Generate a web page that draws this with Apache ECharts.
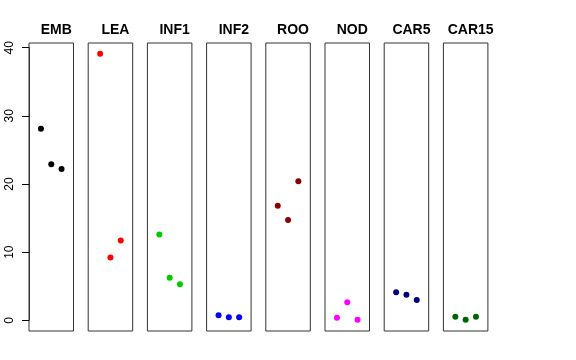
<!DOCTYPE html>
<html>
<head>
<meta charset="utf-8">
<script src="https://cdn.jsdelivr.net/npm/echarts@6/dist/echarts.min.js"></script>
<style>
html,body{margin:0;padding:0;background:#fff;}
#c{width:576px;height:360px;}
</style>
</head>
<body>
<div id="c"></div>
<script>
var categories = ['EMB','LEA','INF1','INF2','ROO','NOD','CAR5','CAR15'];
var xPositions = [1, 2, 3];
var EMB = [28.1, 22.9, 22.2];
var LEA = [39.1, 9.2, 11.7];
var INF1 = [12.6, 6.25, 5.3];
var INF2 = [0.73, 0.45, 0.45];
var ROO = [16.8, 14.7, 20.4];
var NOD = [0.38, 2.64, 0.09];
var CAR5 = [4.1, 3.76, 2.98];
var CAR15 = [0.53, 0.09, 0.53];
var yTickMin = 0, yTickMax = 40, yTickStep = 10;

var seriesValues = [EMB, LEA, INF1, INF2, ROO, NOD, CAR5, CAR15];
var colors = ['#000000','#FF0000','#00CD00','#0000FF','#8B0000','#FF00FF','#000080','#006400'];

(function () {
  var grids = [], xAxes = [], yAxes = [], series = [], titles = [];
  var left0 = 29, step = 59.2, w = 44.5, panelTop = 43, h = 288;
  var yMin = -1.57, yMax = 40.69;
  var n = categories.length;
  for (var i = 0; i < n; i++) {
    var L = left0 + i * step;
    grids.push({left: L, top: panelTop, width: w, height: h, show: true, borderColor: '#333', borderWidth: 1, backgroundColor: 'transparent'});
    xAxes.push({type: 'value', gridIndex: i, min: -0.16, max: 4.16, show: false});
    yAxes.push({type: 'value', gridIndex: i, min: yMin, max: yMax, show: false});
    series.push({
      type: 'scatter', xAxisIndex: i, yAxisIndex: i,
      symbol: 'circle', symbolSize: 6,
      itemStyle: {color: colors[i], opacity: 1},
      data: seriesValues[i].map(function (v, j) { return [xPositions[j], v]; })
    });
    titles.push({
      text: categories[i], left: L + w / 2, top: 18, textAlign: 'center',
      textStyle: {fontSize: 14, fontWeight: 'bold', color: '#000', fontFamily: 'Liberation Sans, Arial, sans-serif'}
    });
  }
  var pxPerUnit = h / (yMax - yMin);
  var axTop = panelTop + (yMax - yTickMax) * pxPerUnit;
  var axH = (yTickMax - yTickMin) * pxPerUnit;
  grids.push({left: left0, top: axTop, width: w, height: axH, show: false});
  xAxes.push({type: 'value', gridIndex: n, min: 0, max: 1, show: false});
  yAxes.push({
    type: 'value', gridIndex: n, min: yTickMin, max: yTickMax, interval: yTickStep,
    splitLine: {show: false},
    axisLine: {show: true, lineStyle: {color: '#333', width: 1}},
    axisTick: {show: true, length: 7, lineStyle: {color: '#000'}},
    axisLabel: {show: true, rotate: 90, margin: 13, color: '#000', fontSize: 12, fontFamily: 'Liberation Sans, Arial, sans-serif'}
  });

  var chart = echarts.init(document.getElementById('c'), null, {renderer: 'canvas'});
  chart.setOption({
    animation: false,
    backgroundColor: '#fff',
    title: titles,
    grid: grids,
    xAxis: xAxes,
    yAxis: yAxes,
    series: series
  });
})();
</script>
</body>
</html>
